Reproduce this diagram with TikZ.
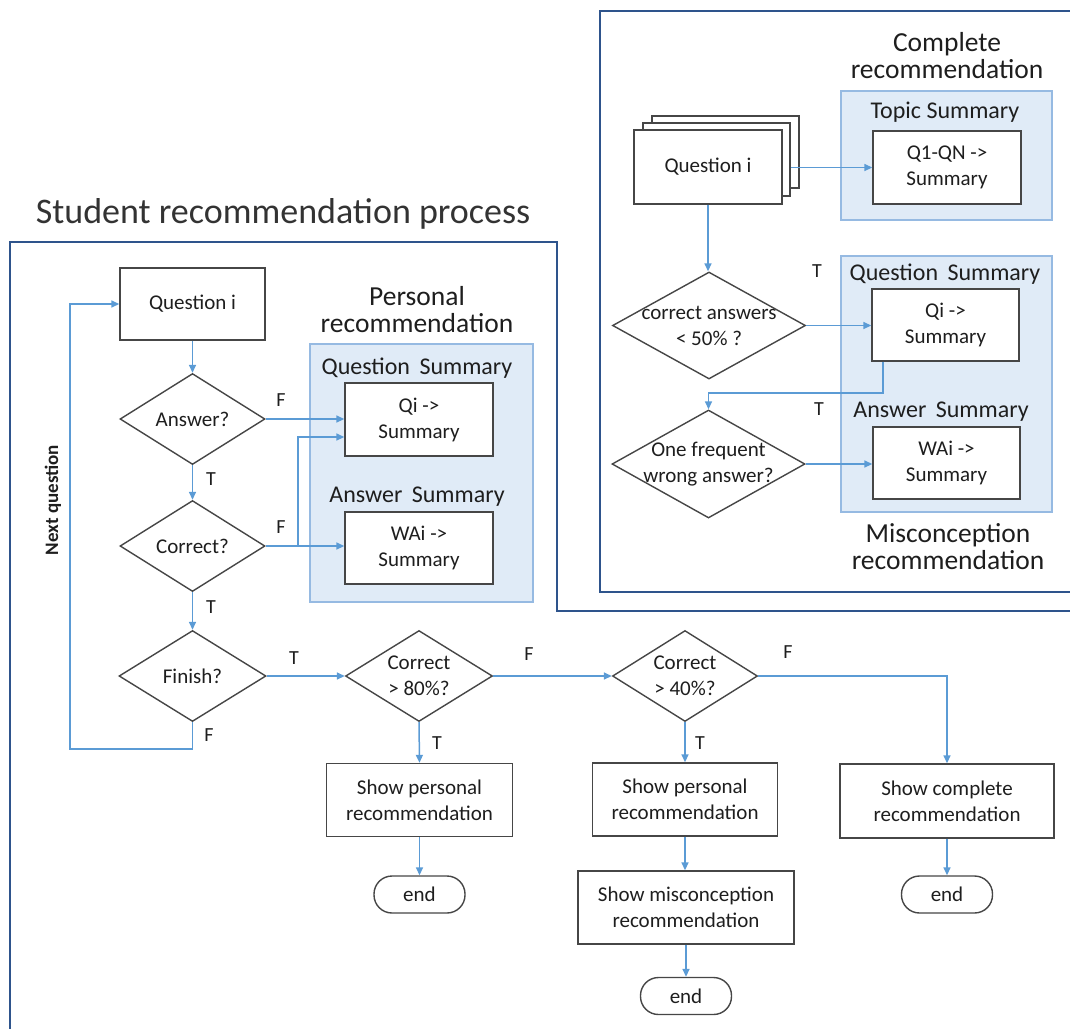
\documentclass[tikz,border=0pt]{standalone}
\usepackage{fontspec}
\setmainfont{Carlito}
\usetikzlibrary{shapes.geometric,arrows.meta}
\definecolor{frm}{RGB}{46,84,140}
\definecolor{conn}{RGB}{91,155,213}
\definecolor{bord}{RGB}{70,70,70}
\definecolor{txt}{RGB}{30,30,30}
\definecolor{shadef}{RGB}{224,235,247}
\definecolor{shadeb}{RGB}{150,186,226}
\begin{document}
\begin{tikzpicture}[x=1pt,y=-1pt,
  every node/.append style={text=txt},
  box/.style={draw=bord, line width=1.4pt, fill=white, align=center, inner sep=0pt, font=\fontsize{21}{26}\selectfont},
  dia/.style={diamond, draw=bord, line width=1.4pt, fill=white, inner sep=0pt},
  dtext/.style={align=center, font=\fontsize{21}{26}\selectfont, inner sep=0pt, text=txt},
  endbox/.style={box, rounded corners=18pt, minimum width=91pt, minimum height=37pt},
  shade/.style={draw=shadeb, line width=1.2pt, fill=shadef, inner sep=0pt},
  head/.style={align=center, font=\fontsize{27.5}{27}\selectfont},
  sub/.style={font=\fontsize{24}{28}\selectfont, inner sep=0pt},
  lab/.style={font=\fontsize{20}{24}\selectfont, inner sep=0pt},
  arr/.style={draw=conn, line width=1.5pt, -{Triangle[length=8pt,width=7pt]}},
  frame/.style={draw=frm, line width=2.5pt},
]
\useasboundingbox (0,0) rectangle (1070,1028);
\clip (0,0) rectangle (1070,1028);

% frames
\draw[frame] (10,1040) -- (10,242) -- (557,242) -- (557,611) -- (1080,611);
\draw[frame] (1080,11) -- (600,11) -- (600,592) -- (1080,592);

\node[font=\fontsize{36}{40}\selectfont, text=black!80] (title) at (283,214) {Student recommendation process};

% left flow
\node[box, minimum width=145pt, minimum height=72pt] (q) at (192.5,304) {Question i};
\node[dia, minimum width=145pt, minimum height=91pt, label={[dtext]center:{Answer?}}] (ans) at (192.5,419) {};
\node[dia, minimum width=145pt, minimum height=91pt, label={[dtext]center:{Correct?}}] (cor) at (192.5,546) {};
\node[dia, minimum width=147pt, minimum height=91pt, label={[dtext]center:{Finish?}}] (fin) at (192.5,676) {};
\node[font=\bfseries\fontsize{19}{22}\selectfont, rotate=90] (nq) at (53,500) {Next question};

% personal recommendation
\node[head] (ph) at (417,309.5) {Personal\\recommendation};
\node[shade, minimum width=223pt, minimum height=258pt] (psh) at (421.5,473) {};
\node[sub] (pqs) at (417,368) {Question\, Summary};
\node[box, minimum width=148pt, minimum height=73pt] (qs) at (419,419.5) {Qi ->\\Summary};
\node[sub] (pas) at (417,497) {Answer\, Summary};
\node[box, minimum width=148pt, minimum height=72pt] (was) at (419,548) {WAi ->\\Summary};

% bottom flow
\node[dia, minimum width=147pt, minimum height=91pt, label={[dtext]center:{Correct\\> 80\%?}}] (c80) at (419,676) {};
\node[dia, minimum width=145pt, minimum height=91pt, label={[dtext]center:{Correct\\> 40\%?}}] (c40) at (685,676) {};
\node[box, minimum width=186pt, minimum height=73pt] (sp1) at (419.5,800) {Show personal\\recommendation};
\node[endbox] (e1) at (419.5,894.5) {end};
\node[box, minimum width=185pt, minimum height=73pt] (sp2) at (685,799.5) {Show personal\\recommendation};
\node[box, minimum width=216pt, minimum height=73pt] (sm) at (686,907.5) {Show misconception\\recommendation};
\node[endbox] (e2) at (686,996) {end};
\node[box, minimum width=214pt, minimum height=74pt] (sc) at (947,801) {Show complete\\recommendation};
\node[endbox] (e3) at (947,894.5) {end};

% top right: complete recommendation
\node[head] (ch) at (947,55.5) {Complete\\recommendation};
\node[shade, minimum width=211pt, minimum height=129pt] (tsh) at (946.5,155.5) {};
\node[sub] (tts) at (945,112) {Topic Summary};
\node[box, minimum width=148pt, minimum height=73pt] (tq) at (947,167.5) {Q1-QN ->\\Summary};
\node[box, minimum width=147pt, minimum height=72pt] (qc) at (725.5,152) {};
\node[box, minimum width=147pt, minimum height=73pt] (qb) at (716.5,159.5) {};
\node[box, minimum width=148pt, minimum height=74pt] (qa) at (708,167) {Question i};
\node[dia, minimum width=193pt, minimum height=107pt, label={[dtext]center:{correct answers\\< 50\% ?}}] (d1) at (709,325.5) {};
\node[shade, minimum width=211pt, minimum height=256pt] (msh) at (946.5,384) {};
\node[sub] (mqs) at (945,274) {Question\, Summary};
\node[box, minimum width=147pt, minimum height=72pt] (qi2) at (945.5,325) {Qi ->\\Summary};
\node[sub] (mas) at (941,412) {Answer\, Summary};
\node[box, minimum width=147pt, minimum height=72pt] (wa2) at (946.5,463) {WAi ->\\Summary};
\node[dia, minimum width=193pt, minimum height=108pt, label={[dtext]center:{One frequent\\wrong answer?}}] (d2) at (708.5,464) {};
\node[head] (mh) at (948,547) {Misconception\\recommendation};

% T / F labels
\node[lab] (l1) at (211,479) {T};
\node[lab] (l2) at (281,400) {F};
\node[lab] (l3) at (211,607) {T};
\node[lab] (l4) at (281,527) {F};
\node[lab] (l5) at (294,658) {T};
\node[lab] (l6) at (209,735) {F};
\node[lab] (l7) at (437,743) {T};
\node[lab] (l8) at (529,654) {F};
\node[lab] (l9) at (700,743) {T};
\node[lab] (l10) at (788,652) {F};
\node[lab] (l11) at (817,271) {T};
\node[lab] (l12) at (819,409) {T};

% connectors left
\draw[arr] (q.south) -- (ans.north);
\draw[arr] (ans.east) -- (ans.east -| qs.west);
\draw[arr] (ans.south) -- (cor.north);
\draw[arr] (cor.east) -- (cor.east -| was.west);
\coordinate (br) at (298,546);
\draw[arr] (br) |- ([yshift=-17.5pt]qs.west);
\draw[arr] (cor.south) -- (fin.north);
\coordinate (lp) at (70,749);
\draw[arr] (fin.south) |- (lp) |- (q.west);
\draw[arr] (fin.east) -- (c80.west);
\draw[arr] (c80.east) -- (c40.west);
\draw[arr] (c80.south) -- (sp1.north);
\draw[arr] (sp1.south) -- (e1.north);
\draw[arr] (c40.south) -- (c40.south |- sp2.north);
\draw[arr] (sp2.south) -- (sp2.south |- sm.north);
\draw[arr] (sm.south) -- (e2.north);
\draw[arr] (c40.east) -| (sc.north);
\draw[arr] (sc.south) -- (e3.north);

% connectors top right
\draw[arr] (qb.east |- tq.west) -- (tq.west);
\draw[arr] (qa.south) -- (qa.south |- d1.north);
\draw[arr] (d1.east) -- (d1.east -| qi2.west);
\coordinate (m1) at (708.5,393);
\draw[arr] ([xshift=-62.5pt]qi2.south) |- (m1) -- (d2.north);
\draw[arr] (d2.east) -- (d2.east -| wa2.west);
\end{tikzpicture}
\end{document}
